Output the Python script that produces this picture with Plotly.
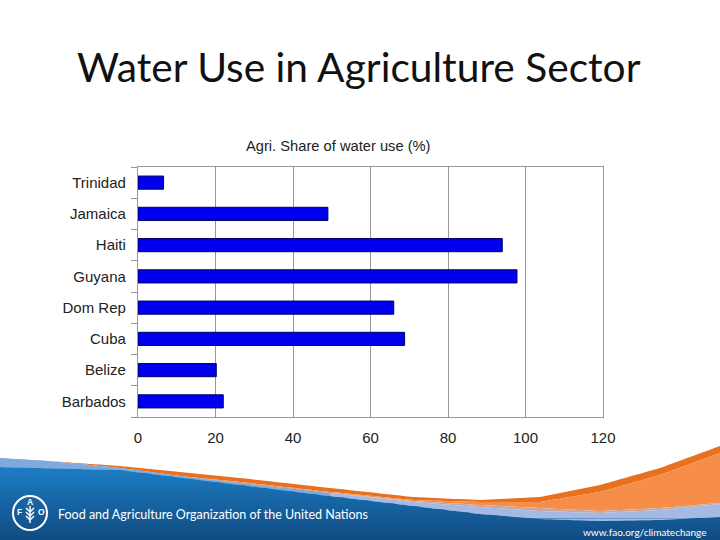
import numpy as np
import plotly.graph_objects as go

countries = ["Barbados", "Belize", "Cuba", "Dom Rep", "Guyana", "Haiti", "Jamaica", "Trinidad"]
agri_share = [22, 20.2, 68.8, 66, 97.8, 94, 49, 6.6]
x_ticks = [0, 20, 40, 60, 80, 100, 120]

L, R, T, B = 138, 603, 167, 417
def px(x): return (x - L) / (R - L)
def py(y): return (B - y) / (B - T)

def path(points):
    return "M " + " L ".join(f"{px(x):.5f},{py(y):.5f}" for x, y in points) + " Z"

xs = np.linspace(0, 720, 145)
def curve(kx, ky):
    return np.interp(xs, kx, ky)

knots = [0, 48, 120, 180, 240, 321, 413, 480, 540, 600, 660, 720]
white_edge = curve(knots, [458, 461, 466, 472, 478, 487, 497, 500, 497, 485, 468, 446])
dark_orange_bot = curve(knots, [458, 461, 468, 476, 482, 491, 500, 502, 502, 492, 475, 453])
orange_bot = curve(knots, [458, 461, 468, 476, 483, 492, 501, 505, 508, 511, 508, 503])
light_top = curve(knots, [458, 461, 468, 476, 483, 492, 502, 507, 511, 513, 510, 504])
blue_top = curve([0, 120, 240, 321, 413, 480, 540, 600, 660, 720],
                 [467, 470, 485, 495, 506, 514, 519, 521, 520, 517])

def band(top, bot):
    return list(zip(xs, top)) + list(zip(xs[::-1], bot[::-1]))

def filled(points, color):
    return dict(type="path", xref="paper", yref="paper", path=path(points),
                fillcolor=color, line_width=0, layer="below")

shapes = [
    filled(band(white_edge, dark_orange_bot), "#e8701f"),
    filled(band(dark_orange_bot, orange_bot), "#f68e4a"),
    filled(band(orange_bot, light_top), "#c9a7a0"),
    filled(band(light_top, blue_top), "#a4b9e3"),
]
# soft blue sheen at the far left above the solid footer
left = xs <= 330
shapes.append(filled(list(zip(xs[left], light_top[left])) + list(zip(xs[left][::-1], blue_top[left][::-1])),
                     "#7faadb"))

# vertical shading of the blue footer, built from thin strips
c0, c1 = np.array([28, 124, 196]), np.array([16, 74, 128])
for y0 in range(467, 540, 3):
    t = (y0 - 467) / 73
    col = c0 + (c1 - c0) * t
    top = np.maximum(blue_top, y0)
    keep = top < y0 + 4
    if keep.sum() < 2:
        continue
    pts = list(zip(xs[keep], top[keep])) + [(xs[keep][-1], y0 + 4), (xs[keep][0], y0 + 4)]
    shapes.append(filled(pts, f"rgb({col[0]:.0f},{col[1]:.0f},{col[2]:.0f})"))

# FAO roundel: ring and wheat ear
shapes.append(dict(type="circle", xref="paper", yref="paper",
                   x0=px(13), x1=px(47), y0=py(530), y1=py(496),
                   fillcolor="rgba(255,255,255,0)", line=dict(color="white", width=2), layer="below"))
def stroke(x0, y0, x1, y1, w=1.5):
    return dict(type="line", xref="paper", yref="paper", x0=px(x0), y0=py(y0), x1=px(x1), y1=py(y1),
                line=dict(color="white", width=w), layer="below")
shapes.append(stroke(30, 506, 30, 523, 1.5))
for dy in (508, 512, 516):
    shapes.append(stroke(30, dy + 4, 26, dy, 1.5))
    shapes.append(stroke(30, dy + 4, 34, dy, 1.5))

fig = go.Figure(go.Bar(
    x=agri_share, y=countries, orientation="h", width=0.42,
    marker=dict(color="#0000ee", line=dict(color="#000066", width=1)),
))

def label(text, x, y, family, size, color, anchor="center"):
    return dict(text=text, x=px(x), y=py(y), xref="paper", yref="paper", xanchor=anchor, yanchor="middle",
                showarrow=False, font=dict(family=family, size=size, color=color))

annotations = [
    label("Water Use in Agriculture Sector", 359, 66, "Lato", 40.7, "#111111"),
    label("Agri. Share of water use (%)", 338, 146, "Liberation Sans", 14.7, "#222222"),
    label("Food and Agriculture Organization of the United Nations", 56, 514, "Lato", 12.5, "white", "left"),
    label("www.fao.org/climatechange", 708, 532, "Lato", 10, "white", "right"),
    label("<b>F</b>", 19, 512, "Liberation Sans", 8.5, "white"),
    label("<b>A</b>", 30, 502, "Liberation Sans", 8.5, "white"),
    label("<b>O</b>", 41, 512, "Liberation Sans", 8.5, "white"),
]

fig.update_layout(
    width=720, height=540, margin=dict(l=L, r=720 - R, t=T, b=540 - B),
    paper_bgcolor="white", plot_bgcolor="white", showlegend=False,
    shapes=shapes, annotations=annotations,
    font=dict(family="Liberation Sans", size=15, color="#222222"),
)
fig.update_xaxes(range=[0, 120], tickvals=x_ticks, showgrid=True, gridcolor="#979797", gridwidth=1.3,
                 showline=True, linecolor="#979797", linewidth=1.3, mirror=True, ticks="", zeroline=False,
                 ticklabelstandoff=7)
fig.update_yaxes(type="category", categoryorder="array", categoryarray=countries,
                 showline=True, linecolor="#979797", linewidth=1.3, mirror=True, ticks="outside", ticklen=6,
                 tickcolor="#979797", tickson="boundaries", showgrid=False, ticklabelstandoff=8)

fig.write_html("out.html", config={"displayModeBar": False}, post_script="document.body.style.margin='0';")
